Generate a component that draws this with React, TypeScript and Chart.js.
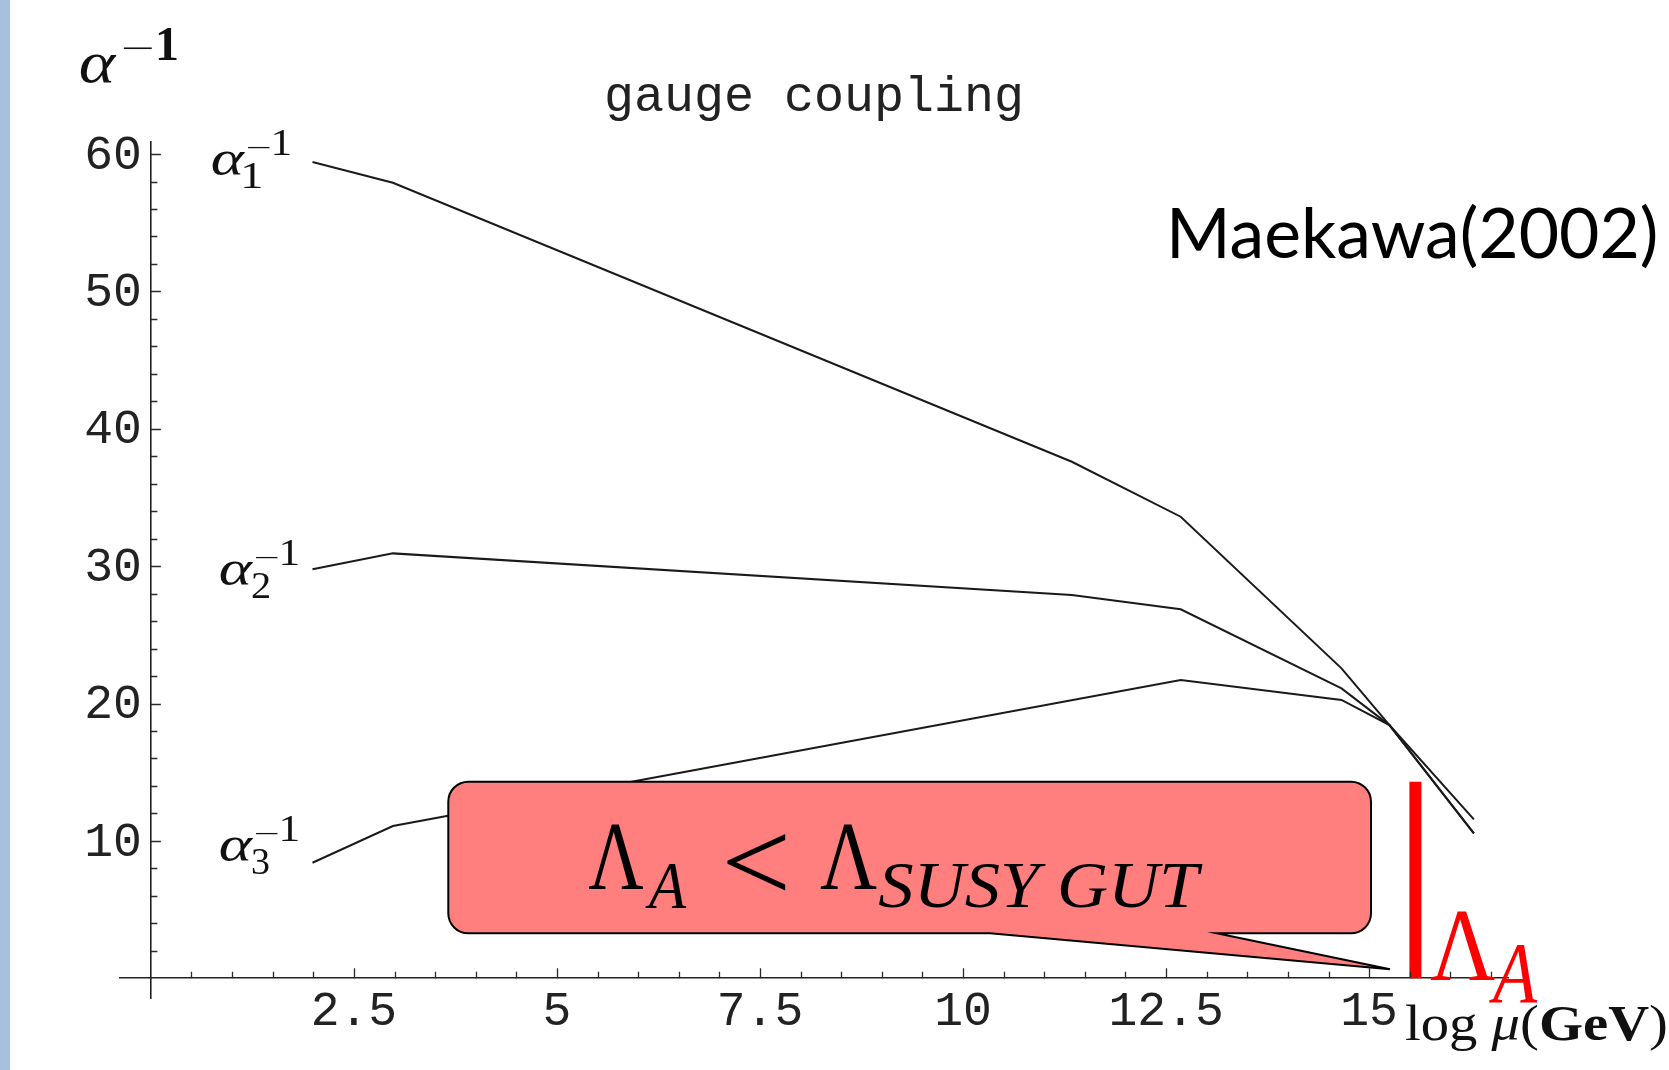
import React, { useEffect, useRef } from 'react';
import { Chart, registerables } from 'chart.js';

Chart.register(...registerables);

// ---- data ----
const logMu1 = [1.99, 2.98, 11.34, 12.68, 14.66, 15.25, 16.29];
const alphaInv1 = [59.42, 57.91, 37.6, 33.6, 22.56, 18.43, 10.55];
const logMu2 = [1.99, 2.98, 11.34, 12.68, 14.66, 15.25, 16.29];
const alphaInv2 = [29.77, 30.93, 27.9, 26.86, 21.1, 18.43, 11.57];
const logMu3 = [1.99, 2.98, 12.68, 14.66, 15.25, 16.29];
const alphaInv3 = [8.41, 11.08, 21.71, 20.26, 18.43, 10.55];
const lambdaAX = [15.57, 15.57];
const lambdaAY = [0, 14.3];

const xTicks = [2.5, 5, 7.5, 10, 12.5, 15];
const yTicks = [10, 20, 30, 40, 50, 60];
const xMinorStep = 0.5;
const yMinorStep = 2;

const TITLE = 'gauge coupling';
const CITE = 'Maekawa(2002)';

type Ctx = CanvasRenderingContext2D;

function drawBox(ctx: Ctx, text: string, font: string, x0: number, y0: number, x1: number, y1: number) {
  ctx.save();
  ctx.font = font;
  ctx.textAlign = 'left';
  ctx.textBaseline = 'alphabetic';
  const m = ctx.measureText(text);
  const w = m.actualBoundingBoxLeft + m.actualBoundingBoxRight;
  const h = m.actualBoundingBoxAscent + m.actualBoundingBoxDescent;
  ctx.translate(x0, y0);
  ctx.scale((x1 - x0) / w, (y1 - y0) / h);
  ctx.fillText(text, m.actualBoundingBoxLeft, m.actualBoundingBoxAscent);
  ctx.restore();
}

function drawWidth(ctx: Ctx, text: string, font: string, x0: number, baseline: number, width: number) {
  ctx.save();
  ctx.font = font;
  ctx.textAlign = 'left';
  ctx.textBaseline = 'alphabetic';
  const m = ctx.measureText(text);
  const w = m.actualBoundingBoxLeft + m.actualBoundingBoxRight;
  ctx.translate(x0, baseline);
  ctx.scale(width / w, 1);
  ctx.fillText(text, m.actualBoundingBoxLeft, 0);
  ctx.restore();
}

function alphaLabel(ctx: Ctx, L: number, B: number, d: string) {
  const serif = 'Liberation Serif';
  drawBox(ctx, 'α', `italic 52px "${serif}"`, L, B - 25, L + 34, B);
  drawBox(ctx, d, `38px "${serif}"`, L + 32, B - 13, L + 49, B + 12);
  drawBox(ctx, '−', `38px "${serif}"`, L + 35, B - 29, L + 58, B - 27);
  drawBox(ctx, '1', `38px "${serif}"`, L + 62, B - 46, L + 78, B - 21);
}

const overlay = {
  id: 'overlay',
  beforeDraw(chart: any) {
    const ctx: Ctx = chart.ctx;
    ctx.save();
    ctx.fillStyle = '#ffffff';
    ctx.fillRect(0, 0, chart.width, chart.height);
    ctx.fillStyle = '#A7C0DE';
    ctx.fillRect(0, 0, 10, chart.height);
    ctx.restore();
  },
  afterDatasetsDraw(chart: any) {
    const ctx: Ctx = chart.ctx;
    const xs = chart.scales.x;
    const ys = chart.scales.y;
    const ax = xs.getPixelForValue(0);
    const ay = ys.getPixelForValue(0);

    // inward tick marks (major + minor)
    ctx.save();
    ctx.strokeStyle = '#2a2a2a';
    ctx.lineWidth = 1.3;
    ctx.beginPath();
    for (let i = 1; i * xMinorStep <= xs.max; i++) {
      const v = i * xMinorStep;
      const major = xTicks.some((t) => Math.abs(t - v) < 1e-6);
      const px = Math.round(xs.getPixelForValue(v)) + 0.5;
      ctx.moveTo(px, ay);
      ctx.lineTo(px, ay - (major ? 10 : 6.5));
    }
    for (let i = 1; i * yMinorStep <= yTicks[yTicks.length - 1]; i++) {
      const v = i * yMinorStep;
      const major = yTicks.some((t) => Math.abs(t - v) < 1e-6);
      const py = Math.round(ys.getPixelForValue(v)) + 0.5;
      ctx.moveTo(ax, py);
      ctx.lineTo(ax + (major ? 10 : 6.5), py);
    }
    ctx.stroke();

    // y tick labels (left of the axis at x = 0)
    ctx.fillStyle = '#222222';
    ctx.font = '48px "Liberation Mono"';
    ctx.textAlign = 'right';
    ctx.textBaseline = 'middle';
    for (const v of yTicks) {
      ctx.fillText(String(v), ax - 9, ys.getPixelForValue(v) + 2);
    }
    ctx.restore();

    // callout balloon
    const c = { left: 448.3, top: 781.7, right: 1371, bottom: 933.3, r: 20, tailL: 990, tailR: 1216.7, tipX: 1390, tipY: 969.3 };
    ctx.save();
    ctx.beginPath();
    ctx.moveTo(c.left + c.r, c.top);
    ctx.lineTo(c.right - c.r, c.top);
    ctx.arcTo(c.right, c.top, c.right, c.top + c.r, c.r);
    ctx.lineTo(c.right, c.bottom - c.r);
    ctx.arcTo(c.right, c.bottom, c.right - c.r, c.bottom, c.r);
    ctx.lineTo(c.tailR, c.bottom);
    ctx.lineTo(c.tipX, c.tipY);
    ctx.lineTo(c.tailL, c.bottom);
    ctx.lineTo(c.left + c.r, c.bottom);
    ctx.arcTo(c.left, c.bottom, c.left, c.bottom - c.r, c.r);
    ctx.lineTo(c.left, c.top + c.r);
    ctx.arcTo(c.left, c.top, c.left + c.r, c.top, c.r);
    ctx.closePath();
    ctx.fillStyle = '#FF7F7F';
    ctx.fill();
    ctx.lineWidth = 2;
    ctx.strokeStyle = '#000000';
    ctx.lineJoin = 'miter';
    ctx.stroke();

    ctx.fillStyle = '#000000';
    const serif = '"Liberation Serif"';
    drawBox(ctx, 'Λ', `96px ${serif}`, 588.3, 825, 643.3, 889);
    drawBox(ctx, 'A', `italic 66px ${serif}`, 645, 864, 686.7, 908.3);
    drawBox(ctx, '<', `90px ${serif}`, 726.7, 833, 786, 890.7);
    drawBox(ctx, 'Λ', `96px ${serif}`, 820, 825, 876.7, 889);
    drawBox(ctx, 'SUSY GUT', `italic 66px ${serif}`, 878.3, 865, 1203, 908.3);

    // red Lambda_A label
    ctx.fillStyle = '#FF0000';
    drawBox(ctx, 'Λ', `100px ${serif}`, 1430, 912, 1495, 980);
    drawBox(ctx, 'A', `italic 72px ${serif}`, 1489, 945, 1538, 1002);

    // curve labels
    ctx.fillStyle = '#111111';
    alphaLabel(ctx, 212, 175.5, '1');
    alphaLabel(ctx, 220, 586, '2');
    alphaLabel(ctx, 220, 861.7, '3');

    // y axis label alpha^-1
    drawBox(ctx, 'α', `italic 60px ${serif}`, 80, 55, 117, 83.3);
    drawBox(ctx, '−', `48px ${serif}`, 123, 47, 151.7, 49.7);
    drawBox(ctx, '1', `bold 48px ${serif}`, 158, 28.3, 177, 60);

    // x axis label log mu (GeV)
    const parts: [string, string][] = [
      ['log ', `51px ${serif}`],
      ['μ', `italic 51px ${serif}`],
      ['(', `51px ${serif}`],
      ['GeV', `bold 51px ${serif}`],
      [')', `51px ${serif}`],
    ];
    let total = 0;
    for (const [t, f] of parts) { ctx.font = f; total += ctx.measureText(t).width; }
    const sx = 263 / total;
    ctx.save();
    ctx.translate(1405, 1040);
    ctx.scale(sx, 1);
    ctx.textAlign = 'left';
    ctx.textBaseline = 'alphabetic';
    let cx = 0;
    for (const [t, f] of parts) { ctx.font = f; ctx.fillText(t, cx, 0); cx += ctx.measureText(t).width; }
    ctx.restore();

    // citation
    ctx.fillStyle = '#000000';
    drawWidth(ctx, CITE, '69px Lato', 1172, 258, 484);
    ctx.restore();
  },
};

export default function App() {
  const ref = useRef<HTMLCanvasElement | null>(null);
  useEffect(() => {
    if (!ref.current) return;
    const lineStyle = {
      borderColor: '#1a1a1a',
      borderWidth: 2,
      pointRadius: 0,
      tension: 0,
      fill: false,
    };
    const chart = new Chart(ref.current, {
      type: 'line',
      data: {
        datasets: [
          { label: 'α1⁻¹', data: logMu1.map((x, i) => ({ x, y: alphaInv1[i] })), ...lineStyle },
          { label: 'α2⁻¹', data: logMu2.map((x, i) => ({ x, y: alphaInv2[i] })), ...lineStyle },
          { label: 'α3⁻¹', data: logMu3.map((x, i) => ({ x, y: alphaInv3[i] })), ...lineStyle },
          {
            label: 'ΛA',
            data: lambdaAX.map((x, i) => ({ x, y: lambdaAY[i] })),
            borderColor: '#FF0000',
            borderWidth: 12,
            borderCapStyle: 'butt',
            pointRadius: 0,
            tension: 0,
          },
        ],
      },
      options: {
        responsive: false,
        animation: false,
        events: [],
        layout: { padding: { left: 120, right: 161, top: 10, bottom: 71.7 } },
        plugins: {
          legend: { display: false },
          tooltip: { enabled: false },
          title: {
            display: true,
            text: TITLE,
            color: '#222222',
            font: { family: 'Liberation Mono', size: 50, weight: 'normal' },
            padding: { top: 58, bottom: 13.7 },
          },
        },
        scales: {
          x: {
            type: 'linear',
            min: -0.38,
            max: 16.71,
            position: { y: 0 },
            afterBuildTicks: (s: any) => { s.ticks = xTicks.map((v) => ({ value: v })); },
            ticks: {
              callback: (v: any) => String(v),
              color: '#222222',
              font: { family: 'Liberation Mono', size: 48 },
              padding: 5,
              maxRotation: 0,
              autoSkip: false,
            },
            grid: { display: true, drawOnChartArea: false, drawTicks: false },
            border: { display: true, color: '#222222', width: 1.6 },
          },
          y: {
            type: 'linear',
            min: -1.46,
            max: 60.9,
            position: { x: 0 },
            afterBuildTicks: (s: any) => { s.ticks = yTicks.map((v) => ({ value: v })); },
            ticks: { display: false },
            grid: { display: true, drawOnChartArea: false, drawTicks: false },
            border: { display: true, color: '#222222', width: 1.6 },
          },
        },
      },
      plugins: [overlay],
    } as any);
    return () => chart.destroy();
  }, []);
  return (
    <div style={{ position: 'absolute', left: 0, top: 0, width: 1669, height: 1070, background: '#fff' }}>
      <canvas ref={ref} width={1669} height={1070} style={{ display: 'block' }} />
    </div>
  );
}
